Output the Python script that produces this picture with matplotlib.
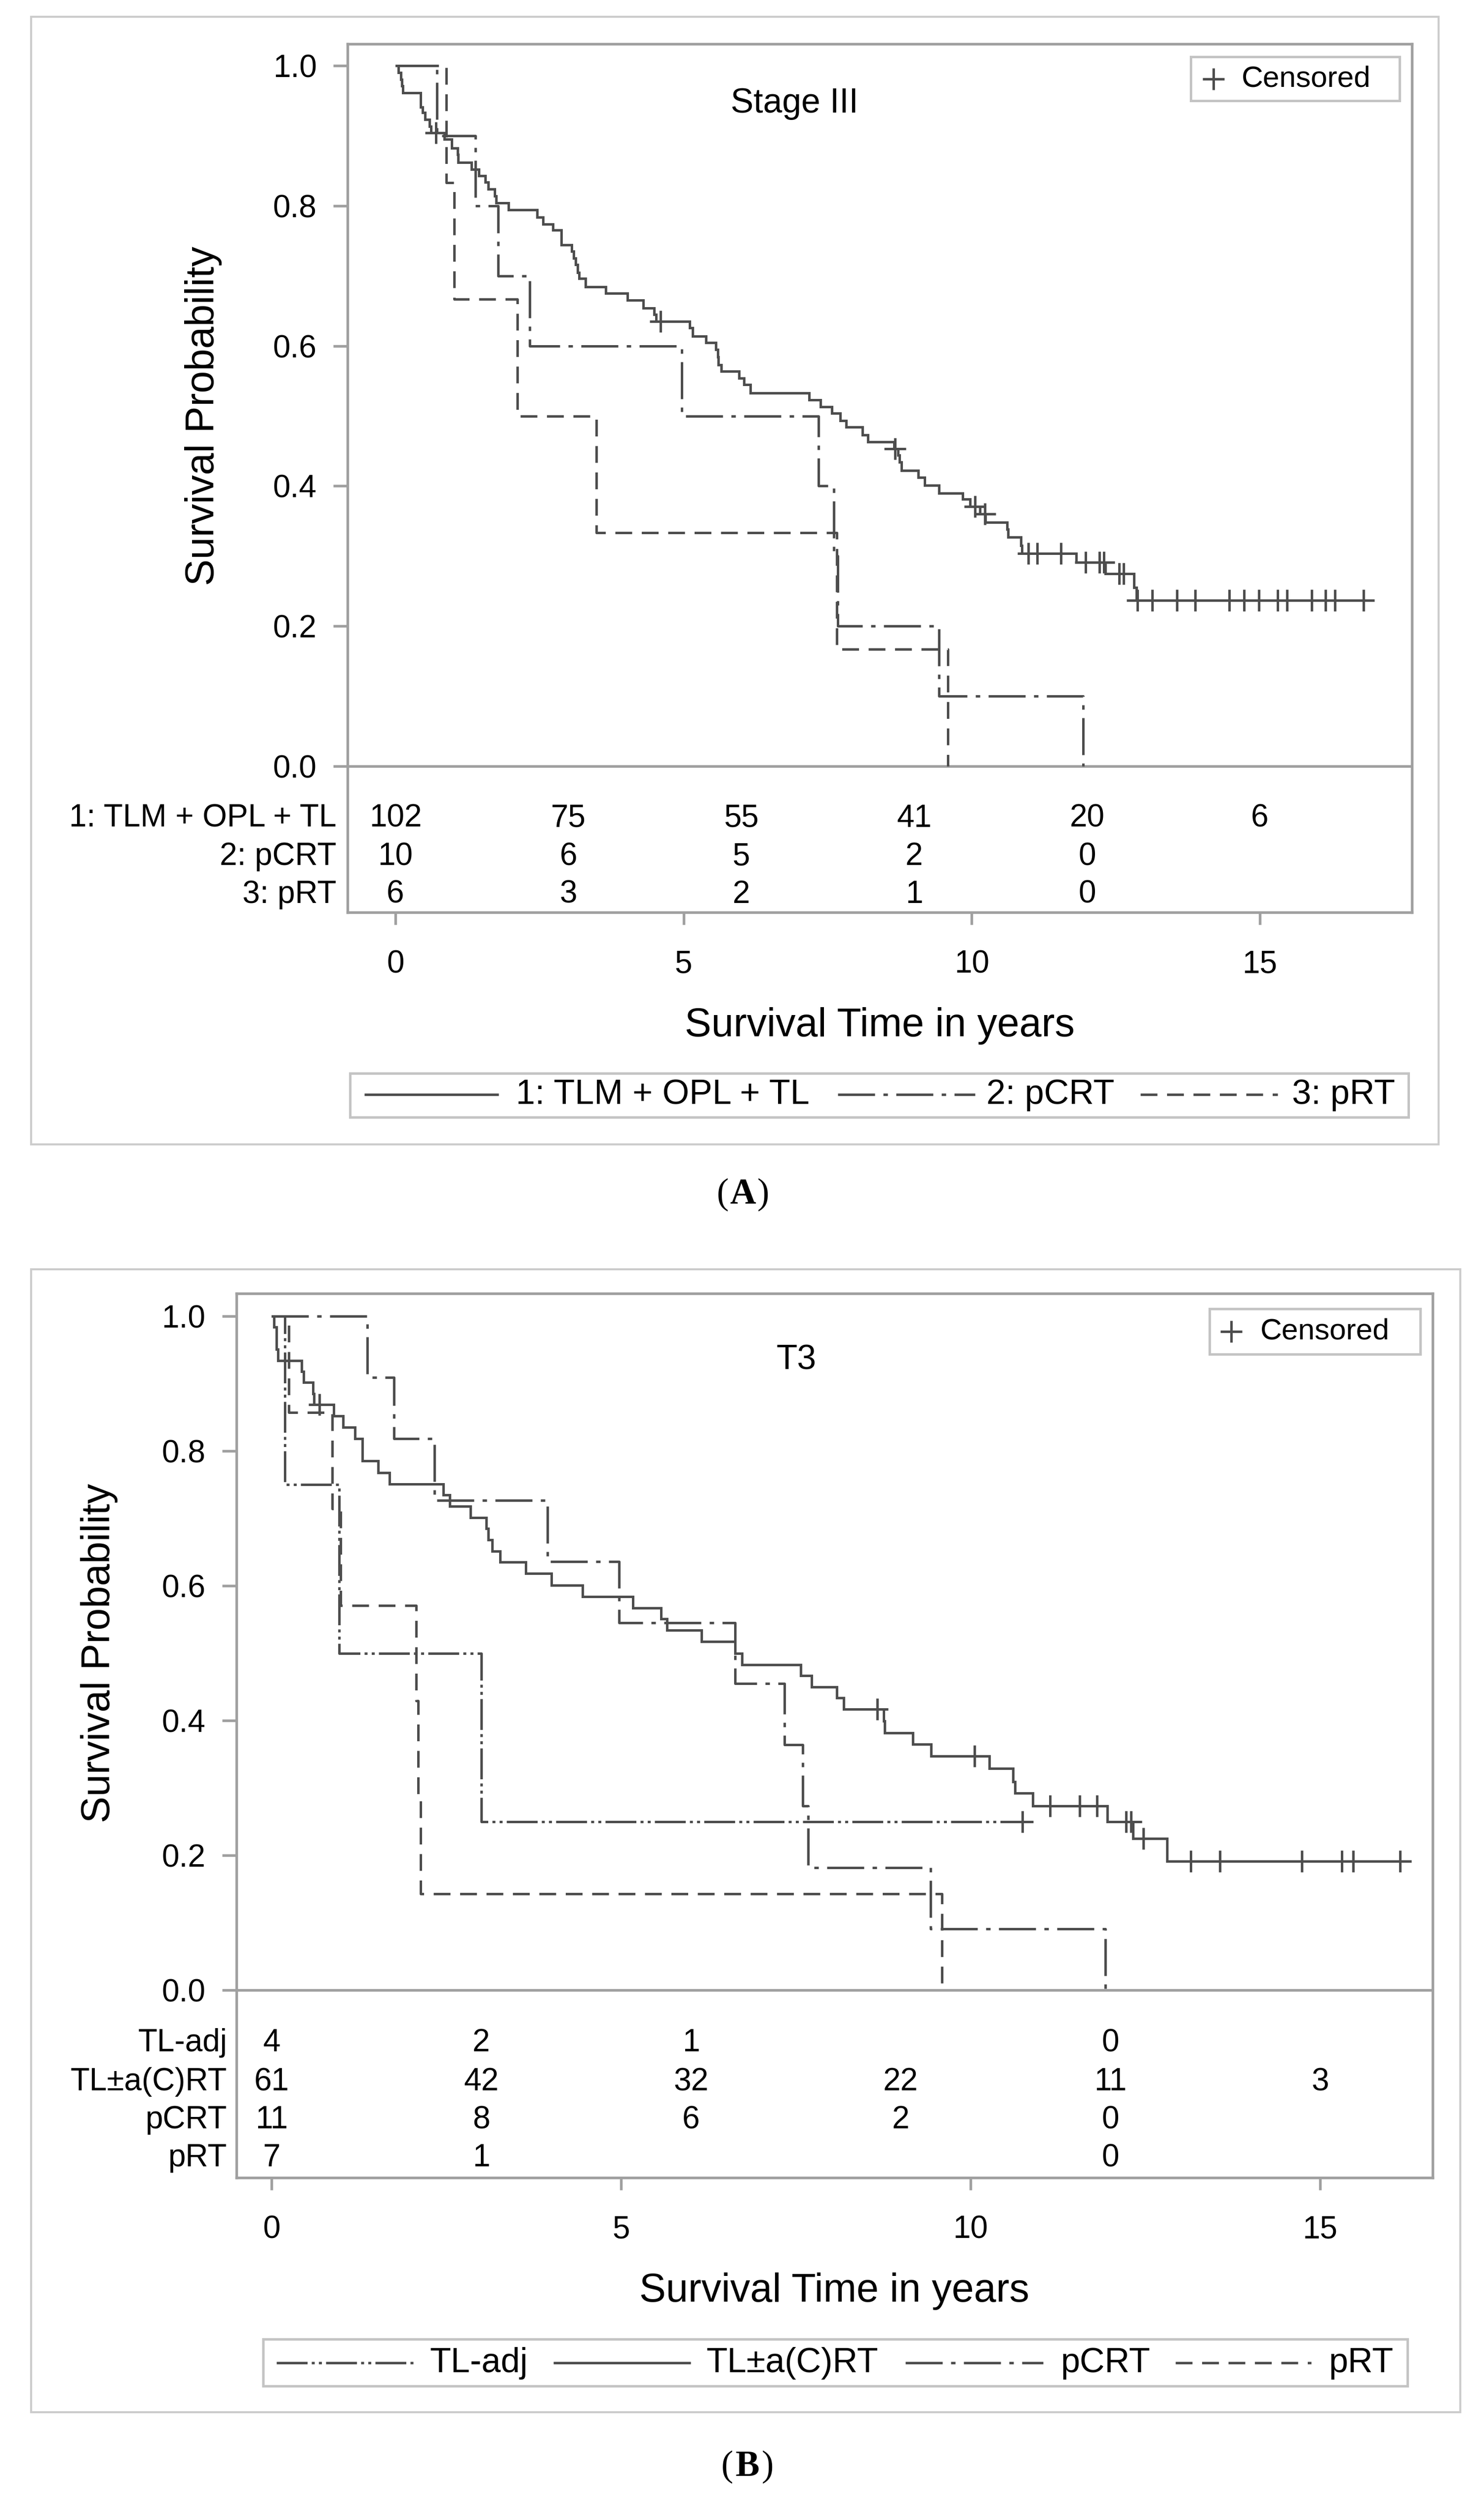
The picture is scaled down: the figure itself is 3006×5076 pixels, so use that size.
import matplotlib
matplotlib.use("Agg")
import matplotlib.pyplot as plt
from matplotlib.lines import Line2D
from matplotlib.patches import Rectangle
import numpy as np

plt.rcParams['font.family'] = ['Liberation Sans', 'DejaVu Sans']

# ---------------- Panel A (Stage III) ----------------
a_tlm_times = [0.05, 0.09, 0.11, 0.13, 0.44, 0.47, 0.51, 0.59, 0.62, 0.85, 0.98, 1.08, 1.09,
               1.32, 1.45, 1.56, 1.61, 1.72, 1.75, 1.96, 2.46, 2.56, 2.73, 2.88, 3.06, 3.09,
               3.13, 3.16, 3.19, 3.30, 3.65, 4.03, 4.30, 4.49, 4.52, 5.11, 5.16, 5.39, 5.56,
               5.59, 5.60, 5.65, 5.96, 6.05, 6.16, 7.18, 7.38, 7.57, 7.72, 7.82, 8.10, 8.20,
               8.65, 8.72, 8.75, 8.78, 9.07, 9.18, 9.43, 9.84, 9.97, 10.14, 10.24, 10.61,
               10.63, 10.85, 10.87, 11.81, 12.32, 12.82, 12.86]
a_tlm_surv = [0.990, 0.980, 0.971, 0.961, 0.941, 0.933, 0.923, 0.913, 0.904, 0.895, 0.882, 0.873,
              0.862, 0.852, 0.843, 0.834, 0.824, 0.814, 0.804, 0.794, 0.784, 0.774, 0.765, 0.744,
              0.735, 0.725, 0.716, 0.705, 0.696, 0.684, 0.675, 0.665, 0.654, 0.645, 0.635, 0.626,
              0.614, 0.605, 0.595, 0.584, 0.573, 0.564, 0.554, 0.545, 0.533, 0.523, 0.513, 0.504,
              0.493, 0.484, 0.473, 0.463, 0.453, 0.444, 0.434, 0.422, 0.412, 0.401, 0.390, 0.381,
              0.371, 0.360, 0.348, 0.338, 0.327, 0.315, 0.304, 0.291, 0.275, 0.255, 0.237]
a_tlm_cens = [0.70, 4.60, 8.67, 10.06, 10.23, 10.98, 11.14, 11.55, 11.98, 12.22, 12.29, 12.56,
              12.64, 12.88, 13.13, 13.56, 13.88, 14.47, 14.73, 14.98, 15.31, 15.47, 15.90, 16.14,
              16.30, 16.80]
a_tlm_end = 16.98

a_pcrt_times = [0.72, 1.385, 1.78, 2.33, 4.97, 7.34, 7.61, 7.68, 9.43, 11.93]
a_pcrt_surv = [0.9, 0.8, 0.7, 0.6, 0.5, 0.4, 0.3, 0.2, 0.1, 0.0]

a_prt_times = [0.88, 1.02, 2.12, 3.49, 7.66, 9.59]
a_prt_surv = [0.833, 0.667, 0.5, 0.333, 0.167, 0.0]

a_risk_times = [0, 3, 6, 9, 12, 15]
a_risk_labels = ["1: TLM + OPL + TL", "2: pCRT", "3: pRT"]
a_risk = [[102, 75, 55, 41, 20, 6],
          [10, 6, 5, 2, 0, None],
          [6, 3, 2, 1, 0, None]]
a_legend = ["1: TLM + OPL + TL", "2: pCRT", "3: pRT"]

# ---------------- Panel B (T3) ----------------
b_tladj_times = [0.19, 0.97, 3.00]
b_tladj_surv = [0.75, 0.50, 0.25]
b_tladj_cens = [10.74]
b_tladj_end = 10.74

b_tl_times = [0.035, 0.068, 0.093, 0.434, 0.459, 0.590, 0.610, 0.888, 1.027, 1.191, 1.299, 1.523,
              1.687, 2.457, 2.552, 2.848, 3.069, 3.102, 3.158, 3.271, 3.637, 4.007, 4.446, 5.170,
              5.574, 5.657, 6.150, 6.630, 6.727, 7.574, 7.725, 8.085, 8.186, 8.756, 8.774, 9.175,
              9.435, 10.266, 10.607, 10.634, 10.888, 11.958, 12.326, 12.811]
b_tl_surv = [0.984, 0.951, 0.934, 0.918, 0.902, 0.885, 0.869, 0.852, 0.835, 0.818, 0.785, 0.768,
             0.751, 0.735, 0.718, 0.701, 0.685, 0.668, 0.651, 0.635, 0.618, 0.601, 0.584, 0.567,
             0.551, 0.534, 0.517, 0.500, 0.483, 0.467, 0.450, 0.434, 0.417, 0.399, 0.382, 0.365,
             0.347, 0.329, 0.309, 0.292, 0.273, 0.250, 0.225, 0.191]
b_tl_cens = [0.686, 8.662, 10.056, 11.136, 11.558, 11.806, 12.228, 12.298, 12.471, 13.147,
             13.568, 14.741, 15.308, 15.470, 16.145]
b_tl_end = 16.31

b_pcrt_times = [1.37, 1.75, 2.33, 3.95, 4.97, 6.63, 7.34, 7.60, 7.68, 9.43, 11.93]
b_pcrt_surv = [0.909, 0.818, 0.727, 0.636, 0.545, 0.455, 0.364, 0.273, 0.182, 0.091, 0.0]

b_prt_times = [0.25, 0.87, 0.99, 2.07, 2.10, 2.13, 9.59]
b_prt_surv = [0.857, 0.714, 0.571, 0.429, 0.286, 0.143, 0.0]

b_risk_times = [0, 3, 6, 9, 12, 15]
b_risk_labels = ["TL-adj", "TL\u00b1a(C)RT", "pCRT", "pRT"]
b_risk = [[4, 2, 1, None, 0, None],
          [61, 42, 32, 22, 11, 3],
          [11, 8, 6, 2, 0, None],
          [7, 1, None, None, 0, None]]
b_legend = ["TL-adj", "TL\u00b1a(C)RT", "pCRT", "pRT"]

x_ticks = [0, 5, 10, 15]
y_ticks = [0.0, 0.2, 0.4, 0.6, 0.8, 1.0]

# ---------------- styling ----------------
W, H, DPI = 3006, 5076, 300
LINE_C = '#4d4d4d'
FRAME_C = '#a0a0a0'
BORDER_C = '#cccccc'
LW = 1.2
SOLID = dict(ls='-')
DASHDOT = dict(dashes=(15, 3.4, 1.8, 3.4))
DASHED = dict(dashes=(6.8, 3.9))
DASHDOTDOT = dict(dashes=(12.5, 1.7, 1.2, 1.7, 1.2, 1.7))

TICK_FS = 15.3
LAB_FS = 19.4
LEG_FS = 16.8
TITLE_FS = 16.7
CENS_FS = 14.5

fig = plt.figure(figsize=(W / DPI, H / DPI), dpi=DPI)
fig.patch.set_facecolor('white')


def ftext(x, y, s, **kw):
    fig.text(x / W, 1 - y / H, s, **kw)


def fline(x0, x1, y, style):
    ln = Line2D([x0 / W, x1 / W], [1 - y / H, 1 - y / H], transform=fig.transFigure,
                color=LINE_C, lw=LW, solid_capstyle='butt', dash_capstyle='butt', **style,
                zorder=3)
    fig.add_artist(ln)


def fbox(x0, y0, x1, y1, ec, lw, fill=True):
    r = Rectangle((x0 / W, 1 - y1 / H), (x1 - x0) / W, (y1 - y0) / H,
                  transform=fig.transFigure, fill=fill, facecolor='white', edgecolor=ec,
                  lw=lw, zorder=1)
    fig.add_artist(r)


def panel_tag(xc, y, letter):
    serif = ['Liberation Serif', 'DejaVu Serif']
    ftext(xc, y, letter, ha='center', va='center', fontsize=17.5, family=serif, weight='bold')
    ftext(xc - 29, y, "(", ha='right', va='center', fontsize=17.5, family=serif)
    ftext(xc + 29, y, ")", ha='left', va='center', fontsize=17.5, family=serif)


def km(ax, times, surv, style, end=None, cens=None):
    x = [0.0] + list(times)
    y = [1.0] + list(surv)
    if end is not None:
        x.append(end)
        y.append(y[-1])
    ax.step(x, y, where='post', color=LINE_C, lw=LW, solid_joinstyle='miter',
            solid_capstyle='butt', dash_capstyle='butt', **style, zorder=3)
    if cens:
        t_arr = np.array(x)
        s_arr = np.array(y)
        ys = [s_arr[np.searchsorted(t_arr, c, side='right') - 1] for c in cens]
        ax.plot(cens, ys, ls='none', marker='+', ms=10.5, mew=1.2, color=LINE_C, zorder=4)


def setup_axes(rect_px, x0px, ppx, y0px, ppy):
    left, top, right, bottom = rect_px
    ax = fig.add_axes([left / W, 1 - bottom / H, (right - left) / W, (bottom - top) / H])
    ax.set_zorder(2)
    ax.patch.set_alpha(0)
    ax.set_xlim((left - x0px) / ppx, (right - x0px) / ppx)
    ax.set_ylim((y0px - bottom) / ppy, (y0px - top) / ppy)
    for sp in ax.spines.values():
        sp.set_color(FRAME_C)
        sp.set_linewidth(1.3)
    ax.axhline(0, color=FRAME_C, lw=1.3, zorder=2)
    ax.set_xticks(x_ticks)
    ax.set_xticklabels([str(t) for t in x_ticks])
    ax.set_yticks(y_ticks)
    ax.set_yticklabels(['%.1f' % v for v in y_ticks])
    ax.tick_params(axis='y', direction='out', length=7, width=1.3, color=FRAME_C,
                   labelsize=TICK_FS, pad=8)
    ax.tick_params(axis='x', direction='out', length=6, width=1.3, color=FRAME_C,
                   labelsize=TICK_FS, pad=12)
    return ax


# ================= Panel A =================
fbox(63, 34, 2914, 2318, BORDER_C, 1.0, fill=False)
axA = setup_axes((704, 89, 2860, 1848), 801, 116.73, 1552, 1419)
km(axA, a_tlm_times, a_tlm_surv, SOLID, end=a_tlm_end, cens=a_tlm_cens)
km(axA, a_pcrt_times, a_pcrt_surv, DASHDOT)
km(axA, a_prt_times, a_prt_surv, DASHED)
axA.text(0.420, 0.931, "Stage III", transform=axA.transAxes, ha='center', va='center',
         fontsize=TITLE_FS)

a_row_y = [-0.0747, -0.129, -0.183]
for lab, row, yv in zip(a_risk_labels, a_risk, a_row_y):
    axA.text(-0.0105, yv, lab, transform=axA.get_yaxis_transform(), ha='right', va='center',
             fontsize=TICK_FS)
    for t, n in zip(a_risk_times, row):
        if n is not None:
            axA.text(t, yv, str(n), ha='center', va='center', fontsize=TICK_FS)

ftext(412, 842, "Survival Probability", rotation=90, ha='center', va='center', fontsize=LAB_FS)
ftext(1782, 2078, "Survival Time in years", ha='center', va='center', fontsize=LAB_FS)

# censored legend A
fbox(2412, 115, 2835, 204, '#c4c4c4', 1.2)
fig.add_artist(Line2D([2458 / W], [1 - 160 / H], transform=fig.transFigure, marker='+',
                      ms=10.5, mew=1.2, color=LINE_C, ls='none', zorder=3))
ftext(2515, 160, "Censored", ha='left', va='center', fontsize=CENS_FS, zorder=3)

# bottom legend A
fbox(709, 2174, 2853, 2263, '#c4c4c4', 1.2)
fline(738, 1010, 2217, SOLID)
ftext(1045, 2218, a_legend[0], ha='left', va='center', fontsize=LEG_FS)
fline(1697, 1975, 2217, DASHDOT)
ftext(1998, 2218, a_legend[1], ha='left', va='center', fontsize=LEG_FS)
fline(2310, 2588, 2217, DASHED)
ftext(2617, 2218, a_legend[2], ha='left', va='center', fontsize=LEG_FS)

panel_tag(1505, 2420, "A")

# ================= Panel B =================
fbox(63, 2571, 2958, 4886, BORDER_C, 1.0, fill=False)
axB = setup_axes((479, 2620, 2902, 4411), 550, 141.6, 4031, 1365)
km(axB, b_tladj_times, b_tladj_surv, DASHDOTDOT, end=b_tladj_end, cens=b_tladj_cens)
km(axB, b_tl_times, b_tl_surv, SOLID, end=b_tl_end, cens=b_tl_cens)
km(axB, b_pcrt_times, b_pcrt_surv, DASHDOT)
km(axB, b_prt_times, b_prt_surv, DASHED)
axB.text(0.468, 0.9246, "T3", transform=axB.transAxes, ha='center', va='center',
         fontsize=TITLE_FS)

b_row_y = [-0.0784, -0.1363, -0.1927, -0.2491]
for lab, row, yv in zip(b_risk_labels, b_risk, b_row_y):
    axB.text(-0.0078, yv, lab, transform=axB.get_yaxis_transform(), ha='right', va='center',
             fontsize=TICK_FS)
    for t, n in zip(b_risk_times, row):
        if n is not None:
            axB.text(t, yv, str(n), ha='center', va='center', fontsize=TICK_FS)

ftext(201, 3348, "Survival Probability", rotation=90, ha='center', va='center', fontsize=LAB_FS)
ftext(1690, 4641, "Survival Time in years", ha='center', va='center', fontsize=LAB_FS)

fbox(2450, 2651, 2877, 2743, '#c4c4c4', 1.2)
fig.add_artist(Line2D([2494 / W], [1 - 2697 / H], transform=fig.transFigure, marker='+',
                      ms=10.5, mew=1.2, color=LINE_C, ls='none', zorder=3))
ftext(2553, 2697, "Censored", ha='left', va='center', fontsize=CENS_FS, zorder=3)

fbox(533, 4738, 2851, 4833, '#c4c4c4', 1.2)
fline(560, 839, 4786, DASHDOTDOT)
ftext(870, 4787, b_legend[0], ha='left', va='center', fontsize=LEG_FS)
fline(1121, 1399, 4786, SOLID)
ftext(1430, 4787, b_legend[1], ha='left', va='center', fontsize=LEG_FS)
fline(1834, 2113, 4786, DASHDOT)
ftext(2148, 4787, b_legend[2], ha='left', va='center', fontsize=LEG_FS)
fline(2381, 2656, 4786, DASHED)
ftext(2691, 4787, b_legend[3], ha='left', va='center', fontsize=LEG_FS)

panel_tag(1514, 4997, "B")

fig.savefig("out.png", dpi=DPI, facecolor='white')
